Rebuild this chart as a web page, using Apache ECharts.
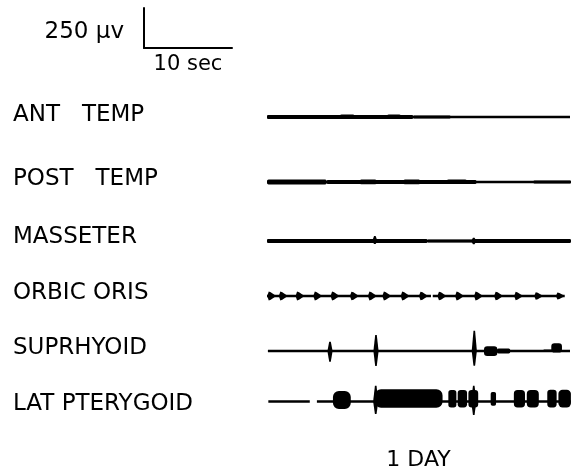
<!DOCTYPE html>
<html><head><meta charset="utf-8">
<script src="https://cdn.jsdelivr.net/npm/echarts@6/dist/echarts.min.js"></script>
<style>html,body{margin:0;padding:0;background:#fff}#c{width:574px;height:472px}</style>
</head><body><div id="c"></div>
<script>
// ---- data (time in seconds, amplitude in µV) ----
const channels = ['ANT   TEMP', 'POST   TEMP', 'MASSETER', 'ORBIC ORIS', 'SUPRHYOID', 'LAT PTERYGOID'];
const timeSpan = [0, 34];
const ampSpan = [-200, 200];
const scaleBarTime = 10;      // sec
const scaleBarAmp = 250;      // µV
const scaleBarTimeLabel = '10 sec';
const scaleBarAmpLabel = '250 μv';
const dayLabel = '1 DAY';

// baseline segments [start, end]
const antBase  = [[0, 34]];
const postBase = [[0, 34.1]];
const massBase = [[0, 34.1]];
const orbBase  = [[0, 18.4], [18.6, 33.4]];
const supBase  = [[0.1, 34]];
const latBase  = [[0.15, 4.8], [5.6, 34.1]];

// bursts [start, end, up, down]
const antBursts  = [[0, 16.4, 13, 13], [8.2, 9.8, 15, 13], [13.5, 15.0, 15, 13], [16.4, 20.6, 10, 9]];
const postBursts = [[0, 6.7, 15, 15], [6.7, 23.5, 12, 12], [10.4, 12.3, 15, 14], [15.3, 17.2, 15, 14], [20.2, 22.4, 15, 13], [29.9, 34.1, 9, 9]];
const massBursts = [[0, 18, 13, 13], [18, 23.2, 9, 9], [23.2, 34.1, 12, 12]];
const orbBursts  = [];
const supBursts  = [[24.35, 25.85, 29, 31], [25.8, 27.3, 15, 15], [31.0, 32.1, 10, 7], [31.9, 33.1, 48, 10]];
const latBursts  = [[7.4, 9.4, 67, 48], [12.1, 19.7, 78, 40], [20.35, 21.25, 73, 38], [21.4, 22.45, 73, 38], [22.6, 23.7, 73, 38],
                    [25.1, 25.7, 60, 27], [27.7, 28.95, 73, 38], [29.15, 30.5, 73, 38], [31.45, 32.5, 75, 38], [32.7, 34.1, 75, 38]];

// spikes [time, up, down]
const antSpikes  = [];
const postSpikes = [];
const massSpikes = [[8.2, 10, 8], [12.1, 31, 19], [23.2, 21, 21]];
const orbSpikes  = [];
const supSpikes  = [[7.07, 58, 67], [12.23, 100, 94], [23.26, 127, 92]];
const latSpikes  = [[12.2, 100, 80], [23.2, 100, 86]];

// periodic blips [time, amplitude]
const orbBlips = [[0.53, 28], [1.83, 28], [3.71, 28], [5.70, 28], [7.64, 28], [9.81, 27], [11.83, 28], [13.45, 28], [15.51, 28],
                  [17.56, 27], [19.63, 27], [21.61, 28], [23.74, 28], [25.99, 27], [28.24, 26], [30.49, 24], [32.92, 22]];

const bases  = [antBase, postBase, massBase, orbBase, supBase, latBase];
const bursts = [antBursts, postBursts, massBursts, orbBursts, supBursts, latBursts];
const spikes = [antSpikes, postSpikes, massSpikes, orbSpikes, supSpikes, latSpikes];
const blips  = [[], [], [], orbBlips, [], []];

// ---- layout / style ----
const traceY = [117, 182, 241, 296, 351, 402];
const labelY = [115, 179, 237, 293, 348, 404];
const gridLeft = 267, gridWidth = 303, gridHalf = 32;
const FONT = '"DejaVu Sans", "Liberation Sans", Arial, sans-serif';
const INK = '#000';

function baseItem(params, api) {
  const a = api.coord([api.value(0), 0]);
  const b = api.coord([api.value(1), 0]);
  return { type: 'line', shape: { x1: a[0], y1: a[1], x2: b[0], y2: b[1] }, style: { stroke: INK, lineWidth: 2.4 } };
}
function burstItem(params, api) {
  const p0 = api.coord([api.value(0), api.value(2)]);
  const p1 = api.coord([api.value(1), -api.value(3)]);
  const w = p1[0] - p0[0], h = p1[1] - p0[1];
  return { type: 'rect', shape: { x: p0[0], y: p0[1], width: w, height: h, r: Math.min(w, h) / 3 }, style: { fill: INK } };
}
function spikeItem(params, api) {
  const c = api.coord([api.value(0), 0]);
  const t = api.coord([api.value(0), api.value(1)]);
  const b = api.coord([api.value(0), -api.value(2)]);
  const x = c[0];
  return { type: 'polygon', shape: { points: [[x - 0.8, t[1]], [x + 0.8, t[1]], [x + 2.6, c[1]], [x + 0.8, b[1]], [x - 0.8, b[1]], [x - 2.6, c[1]]] }, style: { fill: INK } };
}
function blipItem(params, api) {
  const c = api.coord([api.value(0), 0]);
  const t = api.coord([api.value(0), api.value(1)]);
  const h = c[1] - t[1];
  const x = c[0];
  return { type: 'polygon', shape: { points: [[x - 4.5, c[1]], [x - 3, c[1] - h], [x - 1, c[1] - h * 0.85], [x + 4.5, c[1]], [x - 1, c[1] + h * 0.85], [x - 3, c[1] + h]] }, style: { fill: INK } };
}

const grids = [], xAxes = [], yAxes = [], series = [];
channels.forEach((name, i) => {
  grids.push({ left: gridLeft, width: gridWidth, top: traceY[i] - gridHalf, height: gridHalf * 2 });
  const last = i === channels.length - 1;
  xAxes.push({
    gridIndex: i, type: 'value', min: timeSpan[0], max: timeSpan[1], show: last,
    axisLine: { show: false }, axisTick: { show: false }, axisLabel: { show: false }, splitLine: { show: false },
    name: last ? dayLabel : '', nameLocation: 'middle', nameGap: 16,
    nameTextStyle: { fontFamily: FONT, fontSize: 22, color: INK }
  });
  yAxes.push({ gridIndex: i, type: 'value', min: ampSpan[0], max: ampSpan[1], show: false });
  const common = { type: 'custom', xAxisIndex: i, yAxisIndex: i, silent: true, animation: false };
  series.push(Object.assign({ data: bases[i], renderItem: baseItem, z: 2 }, common));
  series.push(Object.assign({ data: bursts[i], renderItem: burstItem, z: 3 }, common));
  series.push(Object.assign({ data: spikes[i], renderItem: spikeItem, z: 4 }, common));
  series.push(Object.assign({ data: blips[i], renderItem: blipItem, z: 4 }, common));
});

// scale bar grid
const sb = channels.length;
grids.push({ left: 144, top: 8, width: 88, height: 40 });
xAxes.push({
  gridIndex: sb, type: 'value', min: 0, max: scaleBarTime,
  axisLine: { show: true, lineStyle: { color: INK, width: 2 } }, axisTick: { show: false }, axisLabel: { show: false }, splitLine: { show: false },
  name: scaleBarTimeLabel, nameLocation: 'middle', nameGap: 6,
  nameTextStyle: { fontFamily: FONT, fontSize: 21, color: INK }
});
yAxes.push({
  gridIndex: sb, type: 'value', min: 0, max: scaleBarAmp,
  axisLine: { show: true, lineStyle: { color: INK, width: 2 } }, axisTick: { show: false }, axisLabel: { show: false }, splitLine: { show: false },
  name: scaleBarAmpLabel, nameLocation: 'middle', nameRotate: 0, nameGap: 20,
  nameTextStyle: { fontFamily: FONT, fontSize: 23, color: INK, align: 'right', verticalAlign: 'top', lineHeight: 8 }
});

const chart = echarts.init(document.getElementById('c'), null, { renderer: 'canvas' });
chart.setOption({
  backgroundColor: '#fff',
  animation: false,
  grid: grids,
  xAxis: xAxes,
  yAxis: yAxes,
  series: series,
  graphic: channels.map((name, i) => ({
    type: 'text', x: 13, y: labelY[i], silent: true,
    style: { text: name, fontFamily: FONT, fontSize: 23, fill: INK, verticalAlign: 'middle', align: 'left' }
  }))
});
</script>
</body></html>
